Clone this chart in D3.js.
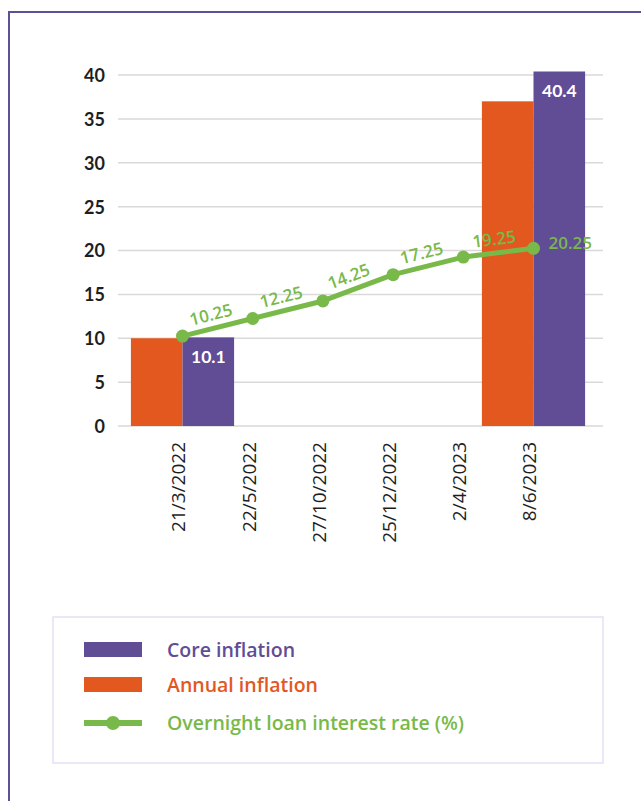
<!DOCTYPE html>
<html>
<head>
<meta charset="utf-8">
<script src="https://cdn.jsdelivr.net/npm/d3@7"></script>
<style>
  html, body { margin: 0; padding: 0; background: #ffffff; }
  svg { display: block; }
</style>
</head>
<body>
<svg id="chart" width="641" height="801"></svg>
<script>
// Policy dates on the category axis
const dates = ["21/3/2022", "22/5/2022", "27/10/2022", "25/12/2022", "2/4/2023", "8/6/2023"];
// Inflation readings (null where no reading is shown)
const annualInflation = [10.0, null, null, null, null, 37.0];
const coreInflation = [10.1, null, null, null, null, 40.4];
// Overnight lending rate after each decision
const overnightRate = [10.25, 12.25, 14.25, 17.25, 19.25, 20.25];
// Value axis ticks
const yTicks = [0, 5, 10, 15, 20, 25, 30, 35, 40];

const seriesNames = ["Core inflation", "Annual inflation", "Overnight loan interest rate (%)"];

const colors = {
  core: "#614c96",
  annual: "#e2581f",
  rate: "#79b949",
  grid: "#d9d9d9",
  frame: "#5d4f98",
  legendBorder: "#e4e1f4"
};

const svg = d3.select("#chart");

// Outer frame, open towards the right and bottom edges
svg.append("rect")
  .attr("x", 9).attr("y", 12)
  .attr("width", 700).attr("height", 900)
  .attr("fill", "none")
  .attr("stroke", colors.frame)
  .attr("stroke-width", 2);

const plot = { left: 118, right: 603, top: 75, bottom: 426 };

const x = d3.scaleBand()
  .domain(dates)
  .range([147.4, 568.6])
  .padding(0);

const y = d3.scaleLinear()
  .domain([0, 40])
  .range([plot.bottom, plot.top]);

const g = svg.append("g");

// Horizontal gridlines
g.selectAll("line.grid")
  .data(yTicks)
  .join("line")
  .attr("class", "grid")
  .attr("x1", plot.left).attr("x2", plot.right)
  .attr("y1", d => y(d)).attr("y2", d => y(d))
  .attr("stroke", colors.grid)
  .attr("stroke-width", 1.5);

// Value axis labels
const yAxis = d3.axisLeft(y).tickValues(yTicks).tickSize(0).tickPadding(0);
g.append("g")
  .attr("transform", `translate(105,0)`)
  .call(yAxis)
  .call(a => a.select(".domain").remove())
  .call(a => a.selectAll("text")
    .attr("font-family", "Lato, 'Open Sans', sans-serif")
    .attr("font-weight", 700)
    .attr("font-size", 18)
    .attr("fill", "#1e1e1e")
    .attr("dy", "0.36em"));

// Grouped bars: annual on the left, core on the right of each date
const barW = x.bandwidth() * 0.735;
const cx = d => x(d) + x.bandwidth() / 2;

const annualData = dates.map((d, i) => ({ d, v: annualInflation[i] })).filter(e => e.v != null);
const coreData = dates.map((d, i) => ({ d, v: coreInflation[i] })).filter(e => e.v != null);

g.selectAll("rect.annual")
  .data(annualData)
  .join("rect")
  .attr("class", "annual")
  .attr("x", e => cx(e.d) - barW)
  .attr("y", e => y(e.v))
  .attr("width", barW)
  .attr("height", e => y(0) - y(e.v))
  .attr("fill", colors.annual);

g.selectAll("rect.core")
  .data(coreData)
  .join("rect")
  .attr("class", "core")
  .attr("x", e => cx(e.d))
  .attr("y", e => y(e.v))
  .attr("width", barW)
  .attr("height", e => y(0) - y(e.v))
  .attr("fill", colors.core);

// Core inflation value labels inside the bars
g.selectAll("text.coreLabel")
  .data(coreData)
  .join("text")
  .attr("class", "coreLabel")
  .attr("x", e => cx(e.d) + barW / 2)
  .attr("y", e => y(e.v) + 25.5)
  .attr("text-anchor", "middle")
  .attr("font-family", "Lato, 'Open Sans', sans-serif")
  .attr("font-weight", 700)
  .attr("font-size", 17.5)
  .attr("fill", "#ffffff")
  .text(e => e.v.toFixed(1));

// Category axis: rotated date labels
const xAxis = d3.axisBottom(x).tickSize(0).tickPadding(0);
g.append("g")
  .attr("transform", `translate(0,${plot.bottom})`)
  .call(xAxis)
  .call(a => a.select(".domain").remove())
  .call(a => a.selectAll("text")
    .attr("font-family", "'Open Sans', sans-serif")
    .attr("font-size", 19)
    .attr("fill", "#1e1e1e")
    .attr("text-anchor", "end")
    .attr("transform", "rotate(-90)")
    .attr("x", -16)
    .attr("y", -4)
    .attr("dy", "0.36em"));

// Overnight rate line with markers
const pts = dates.map((d, i) => ({ d, v: overnightRate[i], px: cx(d), py: y(overnightRate[i]) }));
const line = d3.line().x(p => p.px).y(p => p.py);

g.append("path")
  .datum(pts)
  .attr("d", line)
  .attr("fill", "none")
  .attr("stroke", colors.rate)
  .attr("stroke-width", 5)
  .attr("stroke-linejoin", "round");

g.selectAll("circle.rate")
  .data(pts)
  .join("circle")
  .attr("class", "rate")
  .attr("cx", p => p.px)
  .attr("cy", p => p.py)
  .attr("r", 6.5)
  .attr("fill", colors.rate);

// Rate labels, following the slope of the next segment
g.selectAll("text.rateLabel")
  .data(pts)
  .join("text")
  .attr("class", "rateLabel")
  .attr("transform", (p, i) => {
    let ang = 0;
    if (i < pts.length - 1) {
      const n = pts[i + 1];
      ang = Math.atan2(n.py - p.py, n.px - p.px) * 180 / Math.PI;
    }
    return `translate(${p.px},${p.py}) rotate(${ang})`;
  })
  .attr("x", (p, i) => i < pts.length - 1 ? 11 : 15)
  .attr("y", (p, i) => i < pts.length - 1 ? -8 : 0)
  .attr("dy", (p, i) => i < pts.length - 1 ? "0" : "0.05em")
  .attr("font-family", "'Open Sans', sans-serif")
  .attr("font-weight", 600)
  .attr("font-size", 17)
  .attr("fill", colors.rate)
  .text(p => p.v.toFixed(2));

// Legend
const legend = svg.append("g");
legend.append("rect")
  .attr("x", 53).attr("y", 617)
  .attr("width", 550).attr("height", 146)
  .attr("fill", "#ffffff")
  .attr("stroke", colors.legendBorder)
  .attr("stroke-width", 1.5);

const legendItems = [
  { name: seriesNames[0], color: colors.core, type: "rect", cy: 649.5 },
  { name: seriesNames[1], color: colors.annual, type: "rect", cy: 684.5 },
  { name: seriesNames[2], color: colors.rate, type: "line", cy: 723 }
];

legendItems.forEach(it => {
  if (it.type === "rect") {
    legend.append("rect")
      .attr("x", 84).attr("y", it.cy - 7.5)
      .attr("width", 58).attr("height", 15)
      .attr("fill", it.color);
  } else {
    legend.append("line")
      .attr("x1", 84).attr("x2", 142)
      .attr("y1", it.cy).attr("y2", it.cy)
      .attr("stroke", it.color)
      .attr("stroke-width", 6);
    legend.append("circle")
      .attr("cx", 113).attr("cy", it.cy)
      .attr("r", 7)
      .attr("fill", it.color);
  }
  legend.append("text")
    .attr("x", 167).attr("y", it.cy)
    .attr("dy", "0.36em")
    .attr("font-family", "'Open Sans', sans-serif")
    .attr("font-weight", 600)
    .attr("font-size", 19.5)
    .attr("fill", it.color)
    .text(it.name);
});
</script>
</body>
</html>
